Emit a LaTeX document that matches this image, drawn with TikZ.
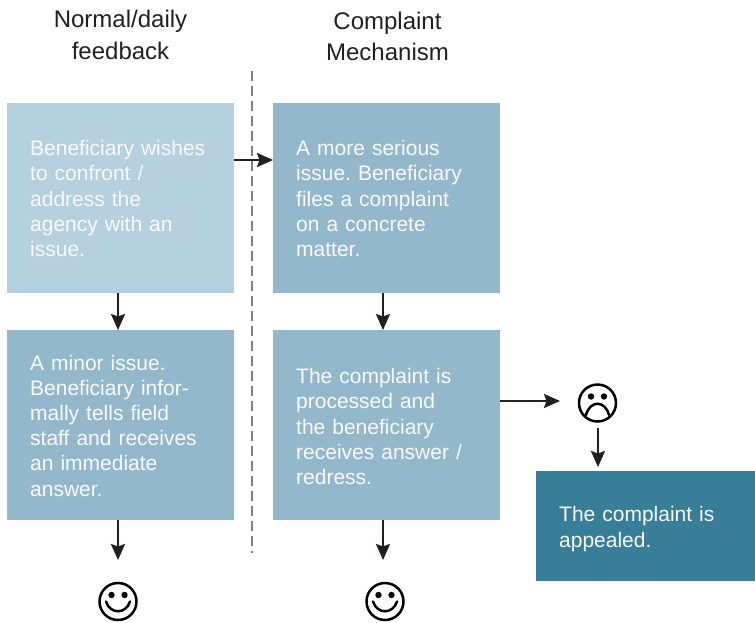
\documentclass[tikz,border=0pt]{standalone}
\usepackage{fontspec}
\setmainfont{Liberation Sans}
\usetikzlibrary{arrows.meta}
\definecolor{paleblue}{HTML}{B5D0DE}
\definecolor{midblue}{HTML}{93B8CC}
\definecolor{deepblue}{HTML}{387E98}
\definecolor{inkgray}{HTML}{231F20}
\tikzset{
  box/.style={anchor=north west, minimum width=227pt, minimum height=190pt, inner sep=0pt},
  boxtext/.style={anchor=west, inner sep=0pt, text width=190pt, align=left, text=white!92!paleblue,
    font=\fontsize{21}{25.2}\selectfont\frenchspacing},
  head/.style={text=inkgray, align=center, font=\fontsize{24}{31.5}\selectfont},
  arr/.style={-{Stealth[length=16pt,width=14pt,inset=2.5pt]}, inkgray, line width=2.4pt},
  face/.style={circle, draw=black, line width=2.5pt, minimum size=37pt, inner sep=0pt},
}
\newcommand{\faceparts}[2]{% node name, mouth
  \fill (#1.center) ++(-6.5,-6.5) circle[radius=3.2pt];
  \fill (#1.center) ++(6.5,-6.5) circle[radius=3.2pt];
  \draw[line width=2.5pt, line cap=round] (#1.center) #2;
}
\begin{document}
\begin{tikzpicture}[x=1pt, y=-1pt]
  \useasboundingbox (0,0) rectangle (755,622);

  \node[head] (dailyhead) at (120.5,35) {Normal/daily\\feedback};
  \node[head] (complainthead) at (387.5,36.5) {Complaint\\Mechanism};

  \coordinate (sepa) at (252,71);
  \coordinate (sepb) at (252,553);
  \draw[dash pattern=on 10pt off 5pt, gray, line width=1.2pt] (sepa) -- (sepb);

  \node[box, fill=paleblue] (wish) at (7,103) {};
  \node[boxtext] (wishtext) at (30,198.5)
    {Beneficiary wishes\\to confront /\\address the\\agency with an\\issue.};
  \node[box, fill=midblue] (serious) at (273,103) {};
  \node[boxtext] (serioustext) at (296,198.5)
    {A more serious\\issue. Beneficiary\\files a complaint\\on a concrete\\matter.};
  \node[box, fill=midblue] (minor) at (7,330) {};
  \node[boxtext] (minortext) at (30,425.5)
    {A minor issue.\\Beneficiary infor-\\mally tells field\\staff and receives\\an immediate\\answer.};
  \node[box, fill=midblue] (process) at (273,330) {};
  \node[boxtext] (processtext) at (296,426.5)
    {The complaint is\\processed and\\the beneficiary\\receives answer /\\redress.};
  \node[box, fill=deepblue, minimum width=219pt, minimum height=110pt] (appeal) at (536,471) {};
  \node[boxtext] (appealtext) at (559,529)
    {The complaint is\\appealed.};

  \node[face] (happyleft) at (118,601.5) {};
  \node[face] (happyright) at (385,601.5) {};
  \node[face] (sad) at (597.5,403) {};
  \foreach \f in {happyleft, happyright}
    \faceparts{\f}{++(-12,0) .. controls +(4,13) and +(-4,13) .. ++(24,0)};
  \faceparts{sad}{++(-11.5,12) .. controls +(4,-15) and +(-4,-15) .. ++(23,0)};

  \draw[arr] (wish.east |- 0,160) -- (serious.west |- 0,160);
  \draw[arr] (wish.south -| 118,0) -- (minor.north -| 118,0);
  \draw[arr] (serious.south -| 383,0) -- (process.north -| 383,0);

  \coordinate (leftend) at (118,560);
  \coordinate (rightend) at (383,560);
  \coordinate (sadend) at (560,401);
  \coordinate (sadstart) at (598,428);
  \coordinate (appealend) at (598,467);
  \draw[arr] (minor.south -| leftend) -- (leftend);
  \draw[arr] (process.south -| rightend) -- (rightend);
  \draw[arr] (process.east |- sadend) -- (sadend);
  \draw[arr] (sadstart) -- (appealend);
\end{tikzpicture}
\end{document}
